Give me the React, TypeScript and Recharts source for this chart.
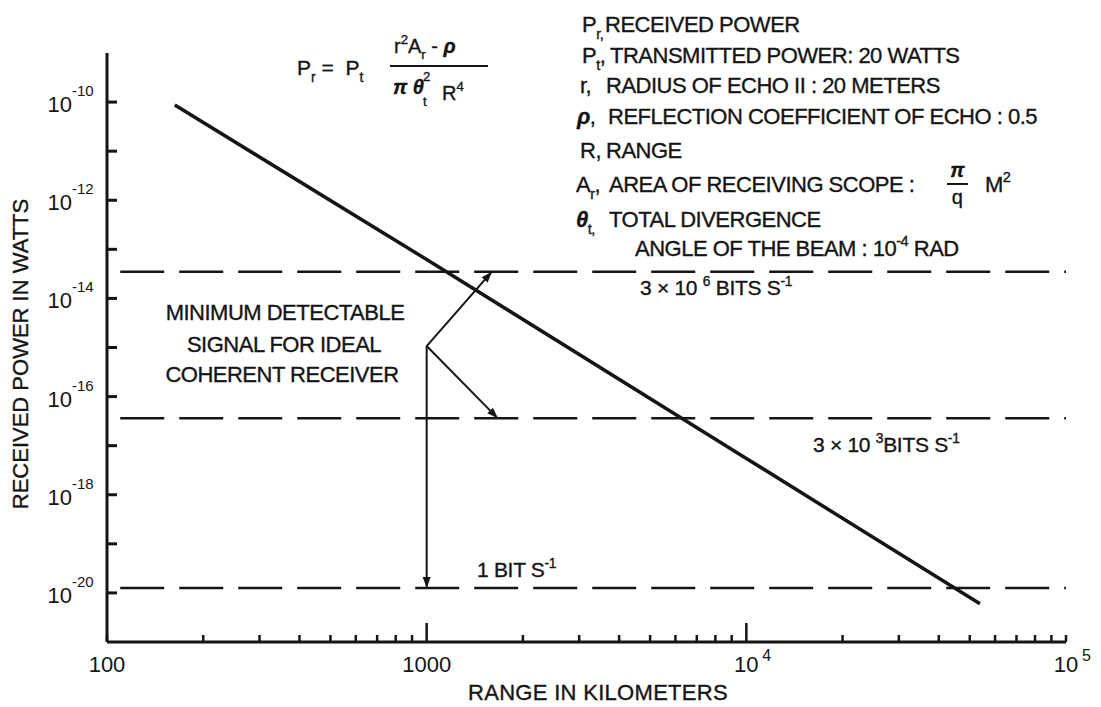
import { LineChart, Line, XAxis, YAxis, ReferenceLine } from "recharts";

const INK = "#151515";
const FONT = "'Liberation Sans', Arial, Helvetica, sans-serif";

// received power vs range
const rangeKm = [163, 1000, 10000, 53800];
const powerW = [8.7e-11, 6.2e-14, 5.5e-18, 6e-21];

const xTicks = [
  100, 200, 300, 400, 500, 600, 700, 800, 900,
  1000, 2000, 3000, 4000, 5000, 6000, 7000, 8000, 9000,
  10000, 20000, 30000, 40000, 50000, 60000, 70000, 80000, 90000, 100000,
];
const xMajor: Record<number, [string, string]> = {
  100: ["100", ""],
  1000: ["1000", ""],
  10000: ["10", "4"],
  100000: ["10", "5"],
};
const yTicks = [1e-10, 1e-11, 1e-12, 1e-13, 1e-14, 1e-15, 1e-16, 1e-17, 1e-18, 1e-19, 1e-20];
const yLabelled = [-10, -12, -14, -16, -18, -20];

// minimum detectable signal levels (dashed)
const thresholdPower = [3.5e-14, 3.6e-17, 1.26e-20];
const thresholdFrom = 110;
const thresholdTo = 100000;

// pointer lines from the "minimum detectable" note
const branch = { r: 1000, p: 1.07e-15 };
const arrowTips = [
  { r: 1600, p: 3.5e-14 },
  { r: 1670, p: 3.6e-17 },
  { r: 1000, p: 1.26e-20 },
];

const data = rangeKm.map((r, i) => ({ r, p: powerW[i] }));

function XTick(props: any) {
  const { x, y, payload } = props;
  const v = payload.value as number;
  const major = xMajor[v];
  const isDecade = v === 1000 || v === 10000;
  return (
    <g>
      <line x1={x} x2={x} y1={y} y2={y - (isDecade ? 19 : 7)} stroke={INK} strokeWidth={2.5} />
      {major && !major[1] && (
        <text x={x} y={y + 30} textAnchor="middle" fontSize={22} fill={INK} fontFamily={FONT}>{major[0]}</text>
      )}
      {major && major[1] && (
        <g>
          <text x={x} y={y + 30} textAnchor="middle" fontSize={22} fill={INK} fontFamily={FONT}>{major[0]}</text>
          <text x={x + 16} y={y + 19} fontSize={16} fill={INK} fontFamily={FONT}>{major[1]}</text>
        </g>
      )}
    </g>
  );
}

function YTick(props: any) {
  const { x, y, payload } = props;
  const e = Math.round(Math.log10(payload.value));
  const show = yLabelled.includes(e);
  return (
    <g>
      <line x1={x} x2={x + 10} y1={y} y2={y} stroke={INK} strokeWidth={3} />
      {show && (
        <g fontFamily={FONT} fill={INK}>
          <text x={x - 35} y={y + 10} textAnchor="end" fontSize={22}>10</text>
          <text x={x - 35} y={y - 6} fontSize={15}>{String(e)}</text>
        </g>
      )}
    </g>
  );
}

function ArrowLine(props: any) {
  const { x1, y1, x2, y2 } = props;
  const a = Math.atan2(y2 - y1, x2 - x1);
  const L = 11;
  const W = 4;
  const bx = x2 - L * Math.cos(a);
  const by = y2 - L * Math.sin(a);
  const px = -Math.sin(a) * W;
  const py = Math.cos(a) * W;
  return (
    <g>
      <line x1={x1} y1={y1} x2={x2} y2={y2} stroke={INK} strokeWidth={2} />
      <path d={`M${x2},${y2} L${bx + px},${by + py} L${bx - px},${by - py} Z`} fill={INK} />
    </g>
  );
}

type Part = [string, ("sub" | "sup" | "b")?];

function Rich({ x, y, parts, size = 22, anchor = "start", ls = -0.5, weight = 400 }: {
  x: number; y: number; parts: Part[]; size?: number; anchor?: string; ls?: number; weight?: number;
}) {
  let off = 0;
  return (
    <text x={x} y={y} fontSize={size} textAnchor={anchor as any} fill={INK} fontFamily={FONT}
      letterSpacing={ls} fontWeight={weight} stroke={INK} strokeWidth={0.35} style={{ whiteSpace: "pre" }}>
      {parts.map(([t, k], i) => {
        const target = k === "sub" ? size * 0.32 : k === "sup" ? -size * 0.45 : 0;
        const dy = target - off;
        off = target;
        const small = k === "sub" || k === "sup";
        return (
          <tspan key={i} dy={dy} fontSize={small ? size * 0.66 : size}
            fontWeight={k === "b" ? 700 : undefined} fontStyle={k === "b" ? "italic" : undefined}>
            {t}
          </tspan>
        );
      })}
    </text>
  );
}

function Notes() {
  return (
    <svg width={1101} height={707} style={{ position: "absolute", left: 0, top: 0, pointerEvents: "none" }}>
      {/* formula */}
      <Rich x={297} y={75} size={21} ls={0} parts={[["P"], ["r", "sub"], [" =  P"], ["t", "sub"]]} />
      <Rich x={394} y={53} size={20} ls={0} parts={[["r"], ["2", "sup"], ["A"], ["r", "sub"], [" - "], ["ρ", "b"]]} />
      <line x1={390} x2={488} y1={66} y2={66} stroke={INK} strokeWidth={2} />
      <Rich x={393} y={94} size={20} ls={0} parts={[["π", "b"], [" "], ["θ", "b"]]} />
      <Rich x={423} y={90} size={20} ls={0} parts={[["2", "sup"]]} />
      <Rich x={423} y={100} size={20} ls={0} parts={[["t", "sub"]]} />
      <Rich x={442} y={100} size={20} ls={0} parts={[["R"], ["4", "sup"]]} />

      {/* symbol list */}
      <Rich x={582} y={32} parts={[["P"], ["r", "sub"], [",", "sub"]]} />
      <Rich x={605} y={32} parts={[["RECEIVED POWER"]]} />
      <Rich x={582} y={63} parts={[["P"], ["t", "sub"], [","]]} />
      <Rich x={610} y={63} parts={[["TRANSMITTED POWER: 20 WATTS"]]} />
      <Rich x={580} y={93} parts={[["r,"]]} />
      <Rich x={606} y={93} parts={[["RADIUS OF ECHO II : 20 METERS"]]} />
      <Rich x={577} y={124} parts={[["ρ", "b"], [","]]} />
      <Rich x={608} y={124} parts={[["REFLECTION COEFFICIENT OF ECHO : 0.5"]]} />
      <Rich x={580} y={158} parts={[["R,"]]} />
      <Rich x={606} y={158} parts={[["RANGE"]]} />
      <Rich x={576} y={192} parts={[["A"], ["r", "sub"], [","]]} />
      <Rich x={609} y={192} parts={[["AREA OF RECEIVING SCOPE :"]]} />
      <Rich x={957} y={177} size={20} anchor="middle" parts={[["π", "b"]]} />
      <line x1={947} x2={968} y1={184} y2={184} stroke={INK} strokeWidth={2} />
      <Rich x={957} y={204} size={20} anchor="middle" parts={[["q"]]} />
      <Rich x={985} y={192} parts={[["M"], ["2", "sup"]]} />
      <Rich x={576} y={227} parts={[["θ", "b"], ["t,", "sub"]]} />
      <Rich x={609} y={227} parts={[["TOTAL DIVERGENCE"]]} />
      <Rich x={635} y={256} parts={[["ANGLE OF THE BEAM : 10"], ["-4", "sup"], [" RAD"]]} />

      {/* threshold labels */}
      <Rich x={640} y={295} size={21} ls={-0.3} parts={[["3 × 10 "], ["6", "sup"], [" BITS S"], ["-1", "sup"]]} />
      <Rich x={813} y={452} size={21} ls={-0.3} parts={[["3 × 10 "], ["3", "sup"], ["BITS S"], ["-1", "sup"]]} />
      <Rich x={477} y={577} size={21} ls={-0.3} parts={[["1 BIT S"], ["-1", "sup"]]} />

      {/* note */}
      <Rich x={285} y={320} anchor="middle" parts={[["MINIMUM DETECTABLE"]]} />
      <Rich x={284} y={352} anchor="middle" parts={[["SIGNAL FOR IDEAL"]]} />
      <Rich x={282} y={382} anchor="middle" parts={[["COHERENT RECEIVER"]]} />

      {/* axis titles */}
      <Rich x={598} y={700} size={22} ls={0.3} anchor="middle" parts={[["RANGE IN KILOMETERS"]]} />
      <g transform="translate(28,354) rotate(-90)">
        <Rich x={0} y={0} size={22} ls={0} anchor="middle" parts={[["RECEIVED POWER IN WATTS"]]} />
      </g>
    </svg>
  );
}

export default function App() {
  return (
    <div style={{ position: "absolute", left: 0, top: 0, width: 1101, height: 707, background: "#fff" }}>
      <LineChart width={1101} height={707} data={data} margin={{ top: 53, right: 35, bottom: 35, left: 47 }}>
        <XAxis dataKey="r" type="number" scale="log" domain={[100, 100000]} allowDataOverflow
          ticks={xTicks} interval={0} tickSize={0} tickMargin={0} tickLine={false} height={30}
          axisLine={{ stroke: INK, strokeWidth: 3 }} tick={(p: any) => <XTick {...p} />} />
        <YAxis type="number" scale="log" domain={[1e-21, 1e-9]} allowDataOverflow
          ticks={yTicks} interval={0} tickSize={0} tickMargin={0} tickLine={false} width={60}
          axisLine={{ stroke: INK, strokeWidth: 3 }} tick={(p: any) => <YTick {...p} />} />
        {thresholdPower.map((p) => (
          <ReferenceLine key={p} segment={[{ x: thresholdFrom, y: p }, { x: thresholdTo, y: p }]}
            stroke={INK} strokeWidth={2.5} strokeDasharray="44 15" />
        ))}
        {arrowTips.map((t, i) => (
          <ReferenceLine key={i} segment={[{ x: branch.r, y: branch.p }, { x: t.r, y: t.p }]}
            shape={(p: any) => <ArrowLine {...p} />} />
        ))}
        <Line dataKey="p" type="linear" stroke={INK} strokeWidth={3.5} dot={false} isAnimationActive={false} />
      </LineChart>
      <Notes />
    </div>
  );
}
